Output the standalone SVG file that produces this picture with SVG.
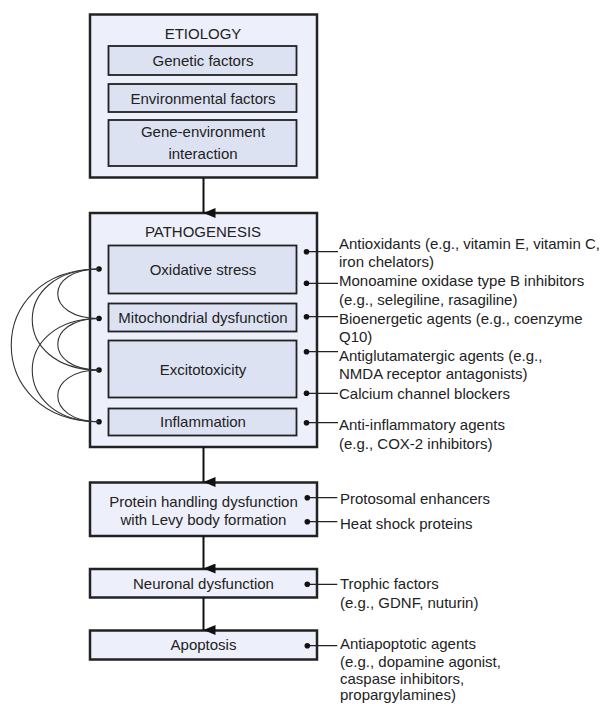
<svg xmlns="http://www.w3.org/2000/svg" width="605" height="704" viewBox="0 0 605 704">
<defs>
<style>
.outer{fill:#edf0fa;stroke:#222;stroke-width:2.5}
.inner{fill:#dde2f3;stroke:#222;stroke-width:1.8}
text{font-family:"Liberation Sans",Arial,sans-serif;font-size:15px;fill:#222}
.c{text-anchor:middle}
.ln{stroke:#222;stroke-width:1.3;fill:none}
.arc{stroke:#333;stroke-width:1.1;fill:none}
.ar{stroke:#111;stroke-width:2;fill:none}
.dot{fill:#111}
</style>
<marker id="ah" viewBox="0 0 10 12" refX="5" refY="12" markerWidth="10" markerHeight="12" markerUnits="userSpaceOnUse" orient="auto">
<path d="M0,0 L10,0 L5,12 Z" fill="#111"/>
</marker>
</defs>
<rect width="605" height="704" fill="#fff"/>

<g id="etiology">
<rect class="outer" x="90" y="14.5" width="227" height="163"/>
<text class="c" x="203" y="38.5">ETIOLOGY</text>
<g id="genetic"><rect class="inner" x="108.5" y="46" width="188" height="29"/><text class="c" x="203" y="66">Genetic factors</text></g>
<g id="environmental"><rect class="inner" x="108.5" y="84" width="188" height="28"/><text class="c" x="203" y="103.5">Environmental factors</text></g>
<g id="gene-env"><rect class="inner" x="108.5" y="120" width="188" height="46"/><text class="c" x="203" y="136.5">Gene-environment</text><text class="c" x="203" y="158.5">interaction</text></g>
</g>

<g id="pathogenesis">
<rect class="outer" x="90" y="213" width="227" height="234"/>
<text class="c" x="203" y="236.5">PATHOGENESIS</text>
<g id="oxidative"><rect class="inner" x="108.5" y="245.5" width="188" height="48"/><text class="c" x="203" y="275">Oxidative stress</text></g>
<g id="mito"><rect class="inner" x="108.5" y="303.5" width="188" height="28"/><text class="c" x="203" y="322.7">Mitochondrial dysfunction</text></g>
<g id="excito"><rect class="inner" x="108.5" y="340.5" width="188" height="57"/><text class="c" x="203" y="375">Excitotoxicity</text></g>
<g id="inflam"><rect class="inner" x="108.5" y="408.5" width="188" height="27"/><text class="c" x="203" y="427">Inflammation</text></g>
</g>

<g id="protein">
<rect class="outer" x="90" y="482.5" width="227" height="53.5"/>
<text class="c" x="203.5" y="507">Protein handling dysfunction</text>
<text class="c" x="203.5" y="525.4">with Levy body formation</text>
</g>
<g id="neuronal">
<rect class="outer" x="90" y="569" width="227" height="28.5"/>
<text class="c" x="203.5" y="589">Neuronal dysfunction</text>
</g>
<g id="apoptosis">
<rect class="outer" x="90" y="630.5" width="227" height="29"/>
<text class="c" x="203.5" y="650.4">Apoptosis</text>
</g>

<g id="labels">
<text x="339" y="248.5">Antioxidants (e.g., vitamin E, vitamin C,</text>
<text x="339" y="266.5">iron chelators)</text>
<text x="339" y="286">Monoamine oxidase type B inhibitors</text>
<text x="339" y="305">(e.g., selegiline, rasagiline)</text>
<text x="339" y="323.5">Bioenergetic agents (e.g., coenzyme</text>
<text x="339" y="341.5">Q10)</text>
<text x="339" y="360.5">Antiglutamatergic agents (e.g.,</text>
<text x="339" y="378.5">NMDA receptor antagonists)</text>
<text x="339" y="398.5">Calcium channel blockers</text>
<text x="339" y="430">Anti-inflammatory agents</text>
<text x="339" y="448.5">(e.g., COX-2 inhibitors)</text>
<text x="340" y="503.7">Protosomal enhancers</text>
<text x="340" y="528.7">Heat shock proteins</text>
<text x="340" y="589">Trophic factors</text>
<text x="340" y="607.7">(e.g., GDNF, nuturin)</text>
<text x="340" y="649.4">Antiapoptotic agents</text>
<text x="340" y="667.2">(e.g., dopamine agonist,</text>
<text x="340" y="684.2">caspase inhibitors,</text>
<text x="340" y="700">propargylamines)</text>
</g>

<g id="connectors">
<line class="ar" x1="203.5" y1="178" x2="203.5" y2="213" marker-end="url(#ah)"/>
<line class="ar" x1="203.5" y1="447" x2="203.5" y2="482" marker-end="url(#ah)"/>
<line class="ar" x1="203.5" y1="536" x2="203.5" y2="568.5" marker-end="url(#ah)"/>
<line class="ar" x1="203.5" y1="597.5" x2="203.5" y2="630" marker-end="url(#ah)"/>

<path class="ln" d="M306.5,251.7H338 M306.5,283.3H338 M306.5,316.7H338 M306.5,351.7H338 M306.5,393.3H338 M306.5,422.7H338"/>
<path class="ln" d="M307.3,497.7H337.3 M307.3,521.7H337.3 M307.3,584.3H337.3 M307.3,645.7H337.3"/>
<g class="dot">
<circle cx="306.5" cy="251.7" r="2.8"/><circle cx="306.5" cy="283.3" r="2.8"/><circle cx="306.5" cy="316.7" r="2.8"/><circle cx="306.5" cy="351.7" r="2.8"/><circle cx="306.5" cy="393.3" r="2.8"/><circle cx="306.5" cy="422.7" r="2.8"/>
<circle cx="307.3" cy="497.7" r="2.8"/><circle cx="307.3" cy="521.7" r="2.8"/><circle cx="307.3" cy="584.3" r="2.8"/><circle cx="307.3" cy="645.7" r="2.8"/>
<circle cx="99" cy="269" r="2.8"/><circle cx="99" cy="318.5" r="2.8"/><circle cx="99" cy="370" r="2.8"/><circle cx="99" cy="421.7" r="2.8"/>
</g>
<path class="arc" d="M99,269 C44,269 44,318.5 99,318.5"/>
<path class="arc" d="M99,318.5 C44,318.5 44,370 99,370"/>
<path class="arc" d="M99,370 C44,370 44,421.7 99,421.7"/>
<path class="arc" d="M99,269 C10,269 10,370 99,370"/>
<path class="arc" d="M99,318.5 C10,318.5 10,421.7 99,421.7"/>
<path class="arc" d="M99,269 C-18,269 -18,421.7 99,421.7"/>
</g>
</svg>
